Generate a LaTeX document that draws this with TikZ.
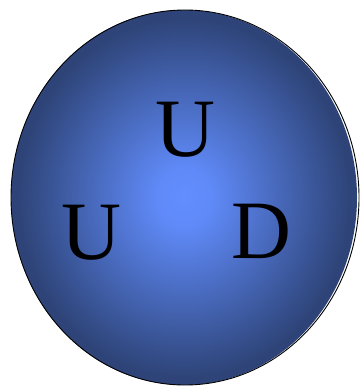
\documentclass[tikz,border=0pt]{standalone}
\usepackage{fontspec}
\setmainfont{Liberation Serif}
\usepackage{tikz}
\usetikzlibrary{positioning}
\definecolor{qcore}{RGB}{98,142,255}
\definecolor{qedge}{RGB}{46,68,120}
\pgfdeclareradialshading{quarkball}{\pgfpoint{0bp}{0bp}}{%
  color(0bp)=(qcore); color(4bp)=(qcore!94!qedge); color(24bp)=(qedge);
  color(50bp)=(qedge)}
\tikzset{
  hadron/.style={shading=quarkball,draw=none},
  rim/.style={draw=black,line width=0.9pt},
  quark/.style={anchor=base,inner sep=0pt,text=black,
    font=\fontsize{83}{83}\selectfont}
}
\begin{document}
\begin{tikzpicture}[x=1pt,y=-1pt]
  \useasboundingbox (0,0) rectangle (360,387);
  \shade[hadron] (184,197.5) ellipse [x radius=173, y radius=187.5];
  \draw[rim] (185,197.5) ellipse [x radius=174, y radius=187.5];
  % three valence quarks
  \node[quark] (u1) at (185,157) {U};
  \node[quark] (u2) at (91,259) {U};
  \node[quark] (d) at (261,258) {D};
\end{tikzpicture}
\end{document}
